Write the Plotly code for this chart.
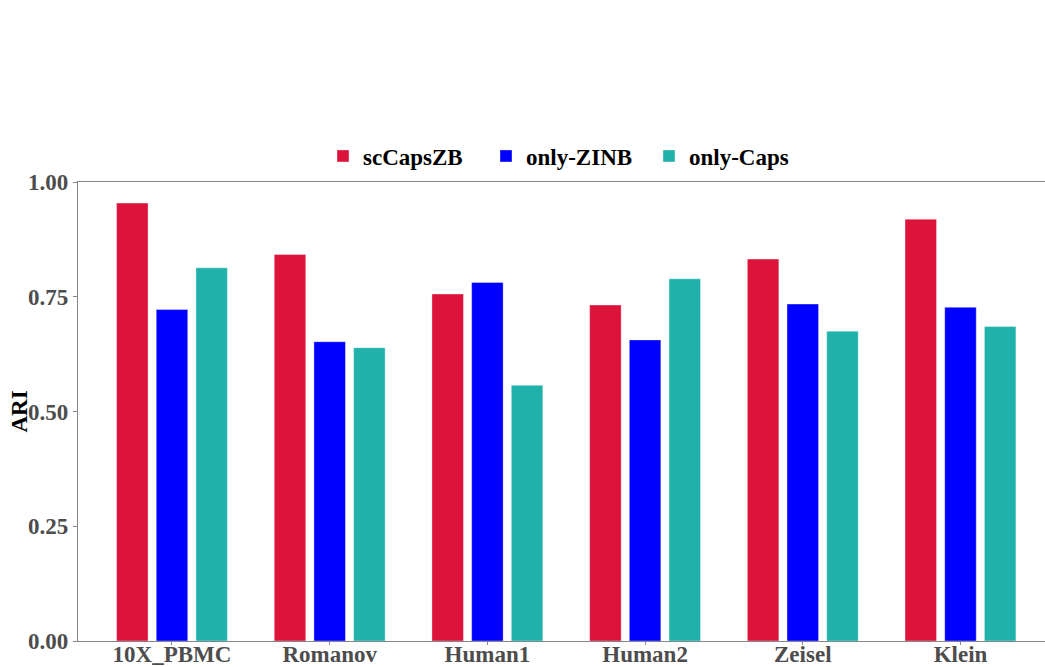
import plotly.graph_objects as go

# ARI of each method on each dataset
datasets = ["10X_PBMC", "Romanov", "Human1", "Human2", "Zeisel", "Klein"]
sccapszb = [0.954, 0.842, 0.756, 0.732, 0.832, 0.919]
only_zinb = [0.722, 0.652, 0.781, 0.656, 0.734, 0.727]
only_caps = [0.813, 0.639, 0.557, 0.789, 0.675, 0.685]

series = [
    ("scCapsZB", sccapszb, "#DC143C"),
    ("only-ZINB", only_zinb, "#0000FF"),
    ("only-Caps", only_caps, "#20B2AA"),
]

y_ticks = [0, 0.25, 0.5, 0.75, 1.0]
y_tick_text = ["0.00", "0.25", "0.50", "0.75", "1.00"]

serif = "Liberation Serif"
fs = 23

fig = go.Figure()
for name, vals, color in series:
    fig.add_trace(go.Bar(
        name=name,
        x=datasets,
        y=vals,
        marker=dict(color=color, line=dict(color="rgba(255,255,255,0.6)", width=0.6)),
    ))

W, H = 1045, 667
left, right, top, bottom = 78, 0, 182, 26
pw = W - left - right

fig.update_layout(
    width=W,
    height=H,
    barmode="group",
    bargap=0.245,
    bargroupgap=0.206,
    plot_bgcolor="white",
    paper_bgcolor="white",
    margin=dict(l=left, r=right, t=top, b=bottom, autoexpand=False),
    font=dict(family=serif, size=fs, color="#4d4d4d"),
    legend=dict(
        orientation="h",
        x=(337 - 14 - left) / pw,
        xanchor="left",
        y=1.0 + (182 - 156) / (H - top - bottom),
        yanchor="middle",
        entrywidth=118,
        font=dict(family=serif, size=fs, color="black", weight="bold"),
        bgcolor="rgba(0,0,0,0)",
        itemclick=False,
    ),
    xaxis=dict(
        range=[-0.596, 5.536],
        showline=True,
        linecolor="#858585",
        linewidth=1.2,
        mirror=True,
        ticks="outside",
        ticklen=3,
        tickcolor="#858585",
        ticklabelstandoff=-11,
        tickfont=dict(family=serif, size=fs, color="#4d4d4d", weight="bold"),
        showgrid=False,
        zeroline=False,
        automargin=False,
    ),
    yaxis=dict(
        range=[0, 1],
        tickvals=y_ticks,
        ticktext=y_tick_text,
        showline=True,
        linecolor="#858585",
        linewidth=1.2,
        ticks="outside",
        ticklen=4,
        tickcolor="#858585",
        tickfont=dict(family=serif, size=fs, color="#4d4d4d", weight="bold"),
        showgrid=False,
        zeroline=False,
        automargin=False,
    ),
    annotations=[
        dict(
            text="ARI",
            textangle=-90,
            xref="paper",
            yref="paper",
            x=(19 - left) / pw,
            y=0.5,
            xanchor="center",
            yanchor="middle",
            showarrow=False,
            font=dict(family=serif, size=fs, color="black", weight="bold"),
        )
    ],
)

fig.write_html("out.html")
